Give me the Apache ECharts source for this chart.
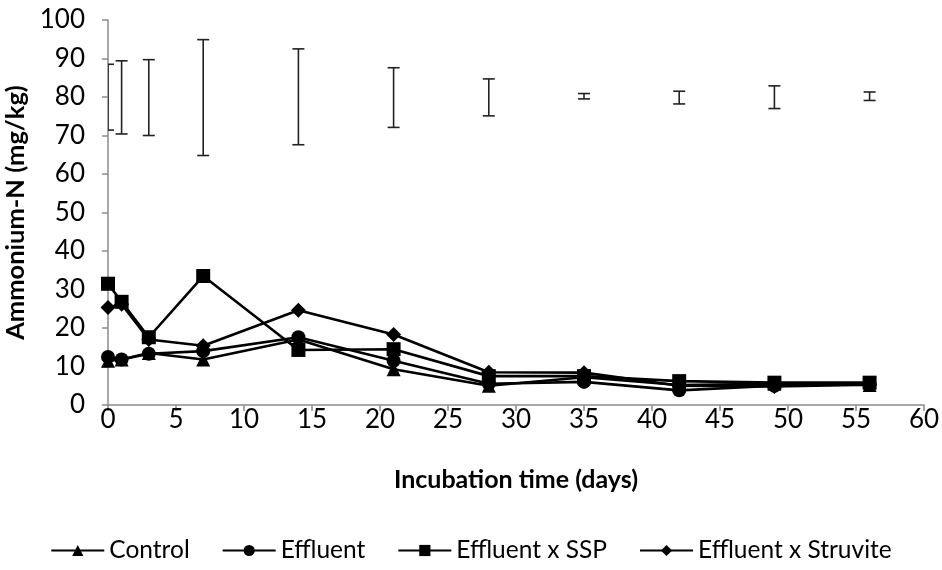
<!DOCTYPE html>
<html>
<head>
<meta charset="utf-8">
<script src="https://cdn.jsdelivr.net/npm/echarts@6/dist/echarts.min.js"></script>
<style>
  html, body { margin: 0; padding: 0; background: #fff; }
  #chart { width: 942px; height: 570px; }
</style>
</head>
<body>
<div id="chart"></div>
<script>
// Sampling days of the incubation
const days = [0, 1, 3, 7, 14, 21, 28, 35, 42, 49, 56];

// Ammonium-N (mg/kg) per treatment
const control   = [11.5, 11.8, 13.5, 11.8, 17.0, 9.3, 5.0, 7.2, 5.2, 5.5, 5.2];
const effluent  = [12.5, 11.8, 13.3, 14.0, 17.6, 11.5, 5.5, 6.0, 3.8, 5.0, 5.5];
const effluentSSP      = [31.5, 26.8, 17.6, 33.5, 14.3, 14.5, 7.5, 7.5, 6.2, 5.8, 5.8];
const effluentStruvite = [25.3, 26.2, 17.0, 15.4, 24.6, 18.3, 8.5, 8.4, 5.0, 4.8, 5.3];

// Significance bars drawn around 80 mg/kg at each sampling day
const barLow  = [71.4, 70.4, 70.0, 64.8, 67.6, 72.1, 75.1, 79.5, 78.2, 77.0, 79.1];
const barHigh = [88.5, 89.4, 89.7, 94.9, 92.5, 87.6, 84.7, 80.9, 81.5, 82.9, 81.3];

const seriesNames = ['Control', 'Effluent', 'Effluent x SSP', 'Effluent x Struvite'];
const xTicks = { min: 0, max: 60, interval: 5 };
const yTicks = { min: 0, max: 100, interval: 10 };

const FONT = 'Lato';

function pairs(values) {
  return days.map((d, i) => [d, values[i]]);
}

function lineSeries(name, values, symbol, size) {
  return {
    name: name,
    type: 'line',
    data: pairs(values),
    symbol: symbol,
    symbolSize: size,
    showAllSymbol: true,
    itemStyle: { color: '#000' },
    lineStyle: { color: '#000', width: 2.6 },
    emphasis: { disabled: true }
  };
}

const chart = echarts.init(document.getElementById('chart'));

chart.setOption({
  animation: false,
  backgroundColor: '#fff',
  grid: {
    left: 108, right: 18, top: 20, bottom: 165,
    containLabel: false,
    outerBoundsMode: 'none'
  },
  xAxis: {
    type: 'value',
    min: xTicks.min, max: xTicks.max, interval: xTicks.interval,
    name: 'Incubation time (days)',
    nameLocation: 'middle',
    nameGap: 62,
    nameTextStyle: { fontFamily: FONT, fontWeight: 'bold', fontSize: 25, color: '#000' },
    axisLine: { lineStyle: { color: '#8c8c8c', width: 1.5 } },
    axisTick: { show: true, length: 6, lineStyle: { color: '#8c8c8c', width: 1.5 } },
    axisLabel: { fontFamily: FONT, fontSize: 26, color: '#000', margin: 2 },
    splitLine: { show: false }
  },
  yAxis: {
    type: 'value',
    min: yTicks.min, max: yTicks.max, interval: yTicks.interval,
    name: 'Ammonium-N (mg/kg)',
    nameLocation: 'middle',
    nameGap: 62,
    nameRotate: 90,
    nameTextStyle: { fontFamily: FONT, fontWeight: 'bold', fontSize: 25.5, color: '#000' },
    axisLine: { show: true, lineStyle: { color: '#8c8c8c', width: 1.5 } },
    axisTick: { show: true, length: 6, lineStyle: { color: '#8c8c8c', width: 1.5 } },
    axisLabel: { fontFamily: FONT, fontSize: 26, color: '#000', margin: 23 },
    splitLine: { show: false }
  },
  legend: {
    data: seriesNames,
    bottom: 2,
    left: 'center',
    itemWidth: 53,
    itemHeight: 14,
    itemGap: 32,
    textStyle: { fontFamily: FONT, fontSize: 24.5, color: '#000' }
  },
  series: [
    {
      name: 'bars',
      type: 'custom',
      clip: true,
      data: days.map((d, i) => [d, barLow[i], barHigh[i]]),
      encode: { x: 0, y: [1, 2] },
      renderItem: function (params, api) {
        const lo = api.coord([api.value(0), api.value(1)]);
        const hi = api.coord([api.value(0), api.value(2)]);
        const half = 6;
        const style = { stroke: '#222', lineWidth: 1.6 };
        return {
          type: 'group',
          children: [
            { type: 'line', shape: { x1: lo[0], y1: lo[1], x2: hi[0], y2: hi[1] }, style: style },
            { type: 'line', shape: { x1: hi[0] - half, y1: hi[1], x2: hi[0] + half, y2: hi[1] }, style: style },
            { type: 'line', shape: { x1: lo[0] - half, y1: lo[1], x2: lo[0] + half, y2: lo[1] }, style: style }
          ]
        };
      },
      silent: true,
      z: 1
    },
    lineSeries('Control', control, 'triangle', 14),
    lineSeries('Effluent', effluent, 'circle', 14),
    lineSeries('Effluent x SSP', effluentSSP, 'rect', 14),
    lineSeries('Effluent x Struvite', effluentStruvite, 'diamond', 15)
  ]
});
</script>
</body>
</html>
